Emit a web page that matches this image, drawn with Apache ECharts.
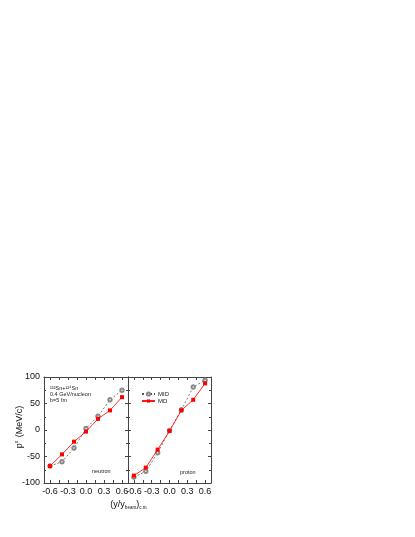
<!doctype html>
<html lang="en">
    <head>
        <meta charset="UTF-8">
        <style>
            html, body { margin: 0; padding: 0; background: #fff; }
        </style>
    </head>
    <body>
        <div id="main" style="width: 415px;height:537px;"></div>
        <script src="https://cdn.jsdelivr.net/npm/echarts@6/dist/echarts.min.js"></script>
        <script type="text/javascript">
        // rapidity values (y/y_beam) shared by both panels
        var rapidity = [-0.6, -0.4, -0.2, 0.0, 0.2, 0.4, 0.6];
        // neutron panel
        var neutronMID = [-68, -60, -34, 3, 26, 57, 75];
        var neutronMD = [-68, -46, -22, -3, 21, 37, 62];
        // proton panel
        var protonMID = [-89, -78, -43, -1, 38, 81, 94];
        var protonMD = [-86, -71, -37, -2, 37, 57, 88];
        // tick labels
        var xLabels = [-0.6, -0.3, 0.0, 0.3, 0.6];
        var xTicks = [-0.6, -0.45, -0.3, -0.15, 0.0, 0.15, 0.3, 0.45, 0.6];

        var myChart = echarts.init(document.getElementById('main'));

        function pairs(ys) {
            var out = [];
            for (var i = 0; i < rapidity.length; i++) {
                out.push([rapidity[i], ys[i]]);
            }
            return out;
        }

        var lineCol = '#444';
        var fontFam = 'Liberation Sans, Arial, sans-serif';

        function xAxisFor(gi, pos, labels) {
            return {
                type: 'value', gridIndex: gi, position: pos,
                min: -0.7, max: 0.7,
                axisLine: { show: true, onZero: false, lineStyle: { color: lineCol, width: 1 } },
                axisTick: { show: true, inside: true, length: 3, customValues: xTicks, lineStyle: { color: lineCol } },
                axisLabel: {
                    show: labels, customValues: xLabels, margin: 4,
                    fontSize: 9, color: '#111', fontFamily: fontFam,
                    formatter: function (v) { return v.toFixed(1); }
                },
                splitLine: { show: false }
            };
        }

        function yAxisFor(gi, pos, labels) {
            return {
                type: 'value', gridIndex: gi, position: pos,
                min: -100, max: 100, interval: 50,
                axisLine: { show: true, onZero: false, lineStyle: { color: lineCol, width: 1 } },
                axisTick: { show: true, inside: true, length: 3, lineStyle: { color: lineCol } },
                minorTick: { show: true, splitNumber: 2, length: 2, lineStyle: { color: lineCol } },
                axisLabel: { show: labels, margin: 4, fontSize: 9, color: '#111', fontFamily: fontFam },
                splitLine: { show: false }
            };
        }

        function midSeries(xi, yi, ys) {
            return {
                name: 'MID', type: 'line', xAxisIndex: xi, yAxisIndex: yi,
                data: pairs(ys),
                symbol: 'emptyCircle', symbolSize: 3.5,
                lineStyle: { color: '#555', width: 0.8, type: [2, 2] },
                itemStyle: { color: '#888', borderWidth: 0.5 },
                z: 2
            };
        }

        function mdSeries(xi, yi, ys) {
            return {
                name: 'MD', type: 'line', xAxisIndex: xi, yAxisIndex: yi,
                data: pairs(ys),
                symbol: 'rect', symbolSize: 4,
                lineStyle: { color: '#ff1a1a', width: 0.9 },
                itemStyle: { color: '#ff0000' },
                z: 3
            };
        }

        var small = { fontSize: 5.5, fill: '#222', fontFamily: fontFam };

        option = {
            animation: false,
            grid: [
                { left: 44, top: 377, width: 84, height: 106 },
                { left: 128, top: 377, width: 83, height: 106 }
            ],
            xAxis: [
                xAxisFor(0, 'bottom', true),
                xAxisFor(0, 'top', false),
                xAxisFor(1, 'bottom', true),
                xAxisFor(1, 'top', false)
            ],
            yAxis: [
                yAxisFor(0, 'left', true),
                yAxisFor(0, 'right', false),
                yAxisFor(1, 'left', false),
                yAxisFor(1, 'right', false)
            ],
            legend: {
                left: 136, top: 386, orient: 'vertical',
                itemWidth: 13, itemHeight: 4, itemGap: 1,
                textStyle: { fontSize: 6, color: '#222', fontFamily: fontFam, padding: [0, 0, 0, -2] },
                data: ['MID', 'MD']
            },
            series: [
                midSeries(0, 0, neutronMID),
                mdSeries(0, 0, neutronMD),
                midSeries(2, 2, protonMID),
                mdSeries(2, 2, protonMD)
            ],
            graphic: [
                { type: 'text', left: 50, top: 385, style: Object.assign({ text: '¹³²Sn+¹²⁴Sn' }, small) },
                { type: 'text', left: 50, top: 391, style: Object.assign({ text: '0.4 GeV/nucleon' }, small) },
                { type: 'text', left: 50, top: 397, style: Object.assign({ text: 'b=5 fm' }, small) },
                { type: 'text', left: 92, top: 468, style: Object.assign({ text: 'neutron' }, small) },
                { type: 'text', left: 180, top: 469, style: Object.assign({ text: 'proton' }, small) },
                {
                    type: 'text', x: 20, y: 427, rotation: Math.PI / 2,
                    style: {
                        text: '{b|p}{s|x} {b|(MeV/c)}', align: 'center', verticalAlign: 'middle',
                        rich: {
                            b: { fontSize: 9, fill: '#111', fontFamily: fontFam },
                            s: { fontSize: 5, fill: '#111', fontFamily: fontFam, padding: [0, 0, 6, 0] }
                        }
                    }
                },
                {
                    type: 'text', x: 129, y: 505,
                    style: {
                        text: '{b|(y/y}{s|beam}{b|)}{s|c.m.}', align: 'center', verticalAlign: 'middle',
                        rich: {
                            b: { fontSize: 9, fill: '#111', fontFamily: fontFam },
                            s: { fontSize: 4.5, fill: '#111', fontFamily: fontFam, padding: [6, 0, 0, 0] }
                        }
                    }
                }
            ]
        };
        myChart.setOption(option);
    </script>
    </body>
</html>
